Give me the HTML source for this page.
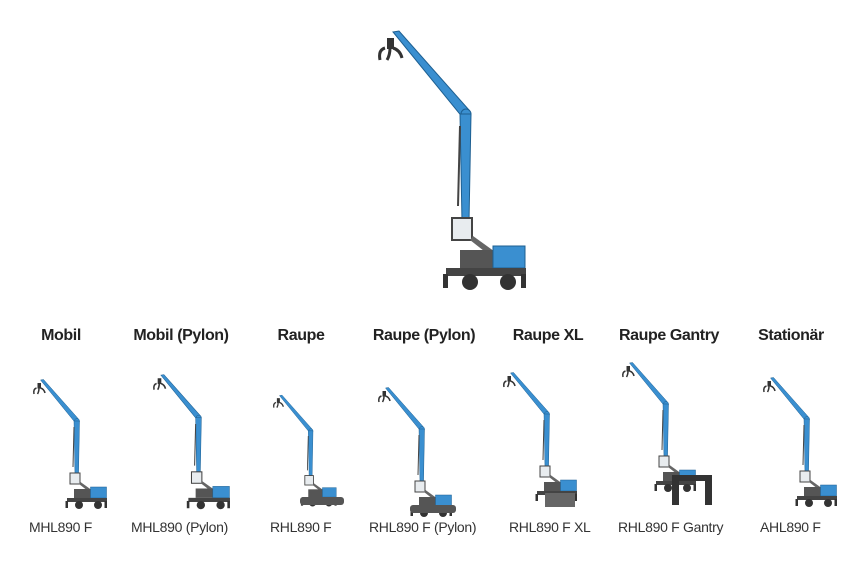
<!DOCTYPE html>
<html><head><meta charset="utf-8"><style>
body{margin:0;width:850px;height:565px;background:#fff;overflow:hidden;position:relative;font-family:"Liberation Sans",sans-serif;}
.h{position:absolute;top:327px;font-weight:bold;font-size:16px;color:#222;transform:translateX(-50%);white-space:nowrap;letter-spacing:-0.4px}
.l{position:absolute;top:519px;font-size:14px;color:#333;white-space:nowrap;letter-spacing:-0.3px}
svg{position:absolute;left:0;top:0}
</style></head><body>
<svg width="850" height="565" viewBox="0 0 850 565">
<defs>
<g id="m">
<path d="M7,22 q-7,2 -5,12 M12,22 q0,7 -3,12 M15,22 q7,2 9,10" stroke="#333" stroke-width="3" fill="none"/>
<rect x="9" y="12" width="7" height="11" fill="#333"/>
<polygon points="15,6 21,5 91,84 85,92" fill="#3a8fd0" stroke="#1d5f91" stroke-width="1"/>
<circle cx="88" cy="88" r="5" fill="#3a8fd0" stroke="#1d5f91"/>
<polygon points="82,88 93,88 91,196 84,196" fill="#3a8fd0" stroke="#1d5f91" stroke-width="1"/>
<line x1="82" y1="100" x2="80" y2="180" stroke="#444" stroke-width="2"/>
<rect x="74" y="192" width="20" height="22" fill="#e8ecef" stroke="#444" stroke-width="2"/>
<polygon points="95,210 120,228 115,232 92,214" fill="#666"/>
<rect x="82" y="224" width="40" height="18" fill="#555"/>
<rect x="115" y="220" width="32" height="22" fill="#3a8fd0" stroke="#1d5f91"/>
<rect x="68" y="242" width="80" height="8" fill="#444"/>
<circle cx="92" cy="256" r="8" fill="#333"/>
<circle cx="130" cy="256" r="8" fill="#333"/>
<rect x="65" y="248" width="5" height="14" fill="#333"/>
<rect x="143" y="248" width="5" height="14" fill="#333"/>
</g>
</defs>
<use href="#m" transform="translate(378,26)"/>
<use href="#m" transform="translate(33,377) scale(0.5)"/>
<use href="#m" transform="translate(153,372) scale(0.52)"/>
<use href="#m" transform="translate(273,393) scale(0.43)"/>
<use href="#m" transform="translate(378,385) scale(0.5)"/>
<use href="#m" transform="translate(503,370) scale(0.5)"/>
<use href="#m" transform="translate(622,360) scale(0.5)"/>
<use href="#m" transform="translate(763,375) scale(0.5)"/>
<rect x="300" y="497" width="44" height="8" rx="3" fill="#555"/>
<rect x="410" y="505" width="46" height="8" rx="3" fill="#555"/>
<rect x="545" y="493" width="30" height="14" fill="#666"/>
<rect x="672" y="475" width="40" height="6" fill="#333"/>
<rect x="672" y="475" width="7" height="30" fill="#333"/>
<rect x="705" y="475" width="7" height="30" fill="#333"/>
</svg>
<div class="h" style="left:61px">Mobil</div>
<div class="h" style="left:181px">Mobil (Pylon)</div>
<div class="h" style="left:301px">Raupe</div>
<div class="h" style="left:424px">Raupe (Pylon)</div>
<div class="h" style="left:548px">Raupe XL</div>
<div class="h" style="left:669px">Raupe Gantry</div>
<div class="h" style="left:791px">Stationär</div>
<div class="l" style="left:29px">MHL890 F</div>
<div class="l" style="left:131px">MHL890 (Pylon)</div>
<div class="l" style="left:270px">RHL890 F</div>
<div class="l" style="left:369px">RHL890 F (Pylon)</div>
<div class="l" style="left:509px">RHL890 F XL</div>
<div class="l" style="left:618px">RHL890 F Gantry</div>
<div class="l" style="left:760px">AHL890 F</div>
</body></html>
